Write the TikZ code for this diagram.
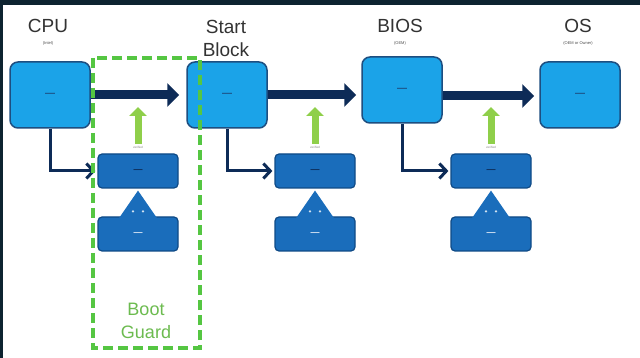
\documentclass[tikz,border=0pt]{standalone}
\usepackage{fontspec}
\setmainfont{Liberation Sans}
\usetikzlibrary{arrows.meta,positioning}

\definecolor{framecol}{HTML}{0D2330}
\definecolor{stageblue}{HTML}{1BA3E8}
\definecolor{stageline}{HTML}{1D4E80}
\definecolor{vblue}{HTML}{1A6DBB}
\definecolor{vline}{HTML}{0F4A86}
\definecolor{flownavy}{HTML}{0D2B57}
\definecolor{upgreen}{HTML}{8FCF4A}
\definecolor{guardgreen}{HTML}{55C642}
\definecolor{guardtext}{HTML}{6CBB4F}

\begin{document}
\begin{tikzpicture}[
        x=1pt, y=-1pt, % pixel grid of the picture
        stage/.style={draw=stageline, line width=1.5pt, fill=stageblue, rounded corners=8pt,
            minimum width=80pt, minimum height=66pt, inner sep=0pt,
            font=\fontsize{10}{10}\bfseries\selectfont, text=stageline},
        vbox/.style={draw=vline, line width=1.2pt, fill=vblue, rounded corners=4pt,
            minimum width=80pt, minimum height=34pt, inner sep=0pt,
            font=\fontsize{9}{9}\bfseries\selectfont, text=flownavy},
        kbox/.style={vbox, text=white!85!vblue},
        title/.style={font=\fontsize{19}{23}\selectfont, text=black!80, align=center},
        subtitle/.style={font=\fontsize{4}{4}\selectfont, text=black!70},
        vtext/.style={font=\fontsize{3}{3}\selectfont, text=black!50, inner sep=0pt},
        flow/.style={line width=9pt, flownavy, -{Triangle[length=12pt,width=23pt]}},
        branch/.style={line width=3pt, flownavy, -{Straight Barb[length=7pt,width=15pt,line width=3pt]}},
        verify/.style={line width=7pt, upgreen, -{Triangle[length=9pt,width=17pt]}},
        guard/.style={draw=guardgreen, line width=3.5pt, dash pattern=on 10pt off 5pt},
    ]
    \useasboundingbox (0,0) rectangle (640,358);
    \fill[white] (0,0) rectangle (640,358);
    \fill[framecol] (0,0) rectangle (640,5);
    \fill[framecol] (0,0) rectangle (3,358);

    % titles
    \node[title] (tcpu) at (48,26) {CPU};
    \node[subtitle] (scpu) at (48,43) {(Intel)};
    \node[title] (tsb) at (226,38) {Start\\Block};
    \node[title] (tbios) at (400,26) {BIOS};
    \node[subtitle] (sbios) at (400,43) {(OEM)};
    \node[title] (tos) at (578,26) {OS};
    \node[subtitle] (sos) at (578,43) {(OEM or Owner)};

    % boot stages
    \node[stage] (cpu) at (50,95) {---};
    \node[stage] (sb) at (227,95) {---};
    \node[stage] (bios) at (402,90) {---};
    \node[stage] (os) at (580,95) {---};

    % verify and key boxes
    \node[vbox] (ver1) at (138,171) {---};
    \node[vbox] (ver2) at (315,171) {---};
    \node[vbox] (ver3) at (491,171) {---};
    \node[kbox] (key1) at (138,234) {---};
    \node[kbox] (key2) at (315,234) {---};
    \node[kbox] (key3) at (491,234) {---};

    % key triangles
    \foreach \k/\v in {key1/ver1, key2/ver2, key3/ver3} {
        \fill[vblue] (\v.south) ++(0,2) -- ++(20,29) -- ++(-40,0) -- cycle;
        \fill[white!80!vblue] ([xshift=-5pt,yshift=5pt]\k.north) circle (1.3pt);
        \fill[white!80!vblue] ([xshift=5pt,yshift=5pt]\k.north) circle (1.3pt);
    }

    % main flow
    \draw[flow, shorten >=7pt] (cpu.east) -- (sb.west);
    \draw[flow, shorten >=5pt] (sb.east) -- (sb.east -| bios.west);
    \draw[flow, shorten >=5pt] ([yshift=-6pt]bios.east) -- ([yshift=-6pt]bios.east -| os.west);

    % branches to verification
    \draw[branch, shorten >=2pt] (cpu.south) |- (ver1.west);
    \draw[branch, shorten >=2pt] (sb.south) |- (ver2.west);
    \draw[branch, shorten >=2pt] (bios.south) |- (ver3.west);

    % verification results
    \node[vtext] (vt1) at (138,147) {verified};
    \node[vtext] (vt2) at (315,147) {verified};
    \node[vtext] (vt3) at (491,147) {verified};
    \coordinate (up1) at (138,107);
    \coordinate (up2) at (315,107);
    \coordinate (up3) at (491,107);
    \draw[verify] ([yshift=2pt]vt1.north) -- (up1);
    \draw[verify] ([yshift=2pt]vt2.north) -- (up2);
    \draw[verify] ([yshift=2pt]vt3.north) -- (up3);

    % boot guard frame
    \draw[guard] (93,58) rectangle (200,348);
    \node[font=\fontsize{18}{23}\selectfont, text=guardtext, align=center] (bg) at (146,321) {Boot\\Guard};
\end{tikzpicture}
\end{document}
